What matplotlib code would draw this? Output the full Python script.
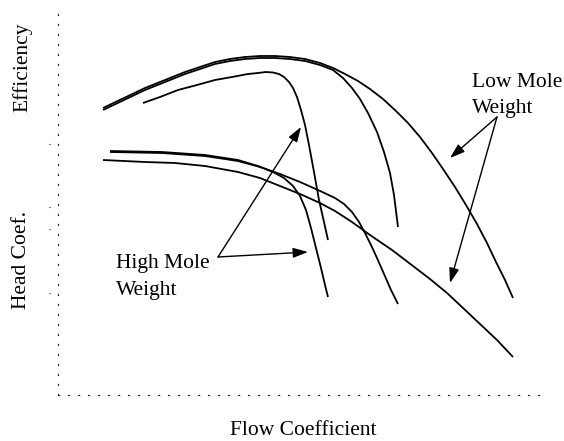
import matplotlib
matplotlib.use('Agg')
import matplotlib.pyplot as plt

# 效率曲線 (x, y 以軸內任意單位讀出)
eff_low_x  = [45, 66, 87, 107, 127, 142, 157, 172, 187, 202, 217, 232, 247, 262,
              275, 287, 300, 312, 325, 338, 350, 362, 374, 385, 397, 408, 419, 429,
              438, 447, 455]
eff_low_y  = [287, 297, 307, 315, 323, 328, 333, 336, 338, 339, 339, 338, 336, 332,
              327, 321, 314, 306, 296, 284, 272, 258, 242, 226, 208, 190, 171, 152,
              133, 115, 97]
eff_mid_x  = [45, 66, 87, 107, 127, 142, 157, 172, 187, 202, 217, 232, 247, 262,
              275, 285, 294, 302, 310, 319, 326, 332, 336, 340]
eff_mid_y  = [285, 295, 305, 313, 321, 326, 331, 334, 336, 337, 337, 336, 334, 330,
              325, 317, 307, 296, 282, 263, 243, 222, 200, 168]
eff_high_x = [85, 102, 120, 139, 157, 174, 190, 200, 208, 215, 221, 226, 231, 235,
              239, 243, 247, 251, 256, 261, 266, 270]
eff_high_y = [292, 298, 305, 310, 315, 318, 321, 322, 323, 322.5, 321, 318, 313, 307,
              298, 285, 270, 250, 223, 195, 173, 155]

# 壓頭係數曲線
head_low_x  = [45, 87, 117, 147, 180, 202, 222, 242, 262, 277, 294, 312, 334, 355,
               372, 389, 405, 422, 439, 455]
head_low_y  = [235, 233, 232, 229, 223, 217, 209, 201, 192, 184, 173, 160, 145, 129,
               116, 102, 87, 71, 55, 38]
head_mid_x  = [52, 104, 147, 180, 202, 222, 242, 260, 277, 286, 294, 301, 307, 313,
               319, 326, 333, 340]
head_mid_y  = [243, 242, 239, 234, 228, 221, 213, 205, 197, 191, 183, 173, 162, 150,
               137, 121, 105, 91]
head_high_x = [52, 104, 147, 180, 200, 215, 226, 235, 242, 248, 253, 258, 263, 267, 270]
head_high_y = [244, 243, 240, 235, 229, 223, 217, 209, 199, 185, 167, 147, 127, 110, 98]

yticks = [102, 166, 188, 251]

# 標註
low_label   = ['Low Mole', 'Weight']
low_text_xy = [(414, 308), (414, 282)]
low_origin  = (439, 278)
low_tips    = [(392, 237), (392, 112)]

high_label   = ['High Mole', 'Weight']
high_text_xy = [(58, 127), (58, 100)]
high_origin  = (160, 138)
high_tips    = [(243, 268), (250, 143)]

plt.rcParams['font.family'] = ['Liberation Serif', 'DejaVu Serif']
fs = 15.5

fig = plt.figure(figsize=(5.64, 4.41), dpi=100)
ax = fig.add_axes([58/564, 46/441, 487/564, 385/441])
ax.set_xlim(0, 487)
ax.set_ylim(0, 385)

for xs, ys in [(eff_low_x, eff_low_y), (eff_mid_x, eff_mid_y), (eff_high_x, eff_high_y),
               (head_low_x, head_low_y), (head_mid_x, head_mid_y), (head_high_x, head_high_y)]:
    ax.plot(xs, ys, color='black', lw=1.3, solid_capstyle='butt', solid_joinstyle='round')

arrow = dict(arrowstyle='-|>,head_length=0.9,head_width=0.3', color='black', lw=1.0,
             shrinkA=0, shrinkB=0)
for tip in low_tips:
    ax.annotate('', xy=tip, xytext=low_origin, arrowprops=arrow)
for tip in high_tips:
    ax.annotate('', xy=tip, xytext=high_origin, arrowprops=arrow)

for s, (x, y) in zip(low_label, low_text_xy):
    ax.text(x, y, s, fontsize=fs, ha='left', va='baseline')
for s, (x, y) in zip(high_label, high_text_xy):
    ax.text(x, y, s, fontsize=fs, ha='left', va='baseline')

# 點狀座標軸
for side in ['top', 'right']:
    ax.spines[side].set_visible(False)
for side in ['left', 'bottom']:
    ax.spines[side].set_linestyle((0, (1, 8)))
    ax.spines[side].set_linewidth(0.8)
    ax.spines[side].set_color('#222222')
ax.set_xticks([])
ax.set_yticks([])
ax.hlines(yticks, -0.0185, 0, transform=ax.get_yaxis_transform(), colors='#222222',
          linestyles=[(0, (1, 8))], lw=0.8, clip_on=False)

fig.text(303/564, 6/441, 'Flow Coefficient', fontsize=fs, ha='center', va='baseline')
fig.text(22/564, 1 - 67/441, 'Efficiency', fontsize=fs, rotation=90, ha='center', va='center')
fig.text(22/564, 1 - 260/441, 'Head Coef.', fontsize=fs, rotation=90, ha='center', va='center')

fig.savefig('out.png', dpi=100, facecolor='white')
